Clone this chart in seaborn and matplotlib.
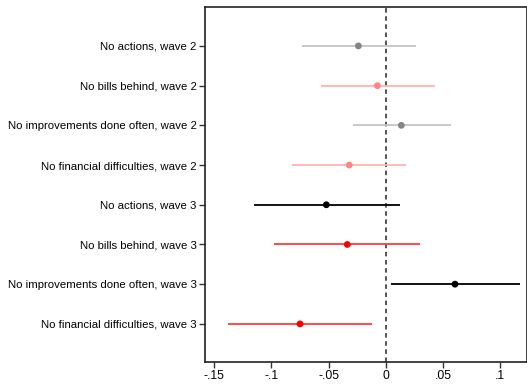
import pandas as pd
import seaborn as sns
import matplotlib.pyplot as plt

# Datos
labels = [
    "No actions, wave 2",
    "No bills behind, wave 2",
    "No improvements done often, wave 2",
    "No financial difficulties, wave 2",
    "No actions, wave 3",
    "No bills behind, wave 3",
    "No improvements done often, wave 3",
    "No financial difficulties, wave 3",
]
coef = [-0.024, -0.0074, 0.0135, -0.032, -0.052, -0.0337, 0.0604, -0.075]
ci_low = [-0.073, -0.057, -0.029, -0.082, -0.1155, -0.0976, 0.0042, -0.138]
ci_high = [0.026, 0.043, 0.057, 0.018, 0.012, 0.030, 0.117, -0.0117]
grupo = ["w2_neg", "w2_pos", "w2_neg", "w2_pos", "w3_neg", "w3_pos", "w3_neg", "w3_pos"]

colores_punto = {"w2_neg": "#858585", "w2_pos": "#ff8585", "w3_neg": "#000000", "w3_pos": "#ff0000"}
colores_linea = {"w2_neg": "#c4c4c4", "w2_pos": "#ffb3b3", "w3_neg": "#000000", "w3_pos": "#ff3c3c"}

df = pd.DataFrame({
    "label": labels,
    "coef": coef,
    "lo": ci_low,
    "hi": ci_high,
    "grupo": grupo,
})
df["pos"] = range(1, len(df) + 1)

sns.set_style("white")
plt.rcParams["font.family"] = ["Liberation Sans", "DejaVu Sans"]

fig = plt.figure(figsize=(5.27, 3.84), dpi=100)
ax = fig.add_axes([205 / 527, 22 / 384, 1 - 205 / 527, 355 / 384])

# Intervalos de confianza
for _, r in df.iterrows():
    ax.hlines(r["pos"], r["lo"], r["hi"], color=colores_linea[r["grupo"]], lw=1.3, zorder=2)

# Estimaciones puntuales
sns.scatterplot(data=df, x="coef", y="pos", hue="grupo", palette=colores_punto,
                s=24, edgecolor="none", legend=False, ax=ax, zorder=3)

ax.axvline(0, color="#444444", ls=(0, (2.5, 2)), lw=1.3, zorder=1)

ax.set_xlim(-0.158, 0.1233)
ax.set_ylim(8.96, 0.02)
ax.set_xticks([-0.15, -0.1, -0.05, 0, 0.05, 0.1])
ax.set_xticklabels(["-.15", "-.1", "-.05", "0", ".05", ".1"], fontsize=8.8, color="black")
ax.set_yticks(df["pos"])
ax.set_yticklabels(df["label"], fontsize=8.2, color="black")
ax.set_xlabel("")
ax.set_ylabel("")

ax.tick_params(axis="both", which="both", direction="out", length=4, width=1,
               color="#333333", left=True, bottom=True, pad=2)
for s in ["left", "bottom", "top", "right"]:
    ax.spines[s].set_color("#222222")
    ax.spines[s].set_linewidth(1.2)

fig.savefig("out.png", dpi=100)
